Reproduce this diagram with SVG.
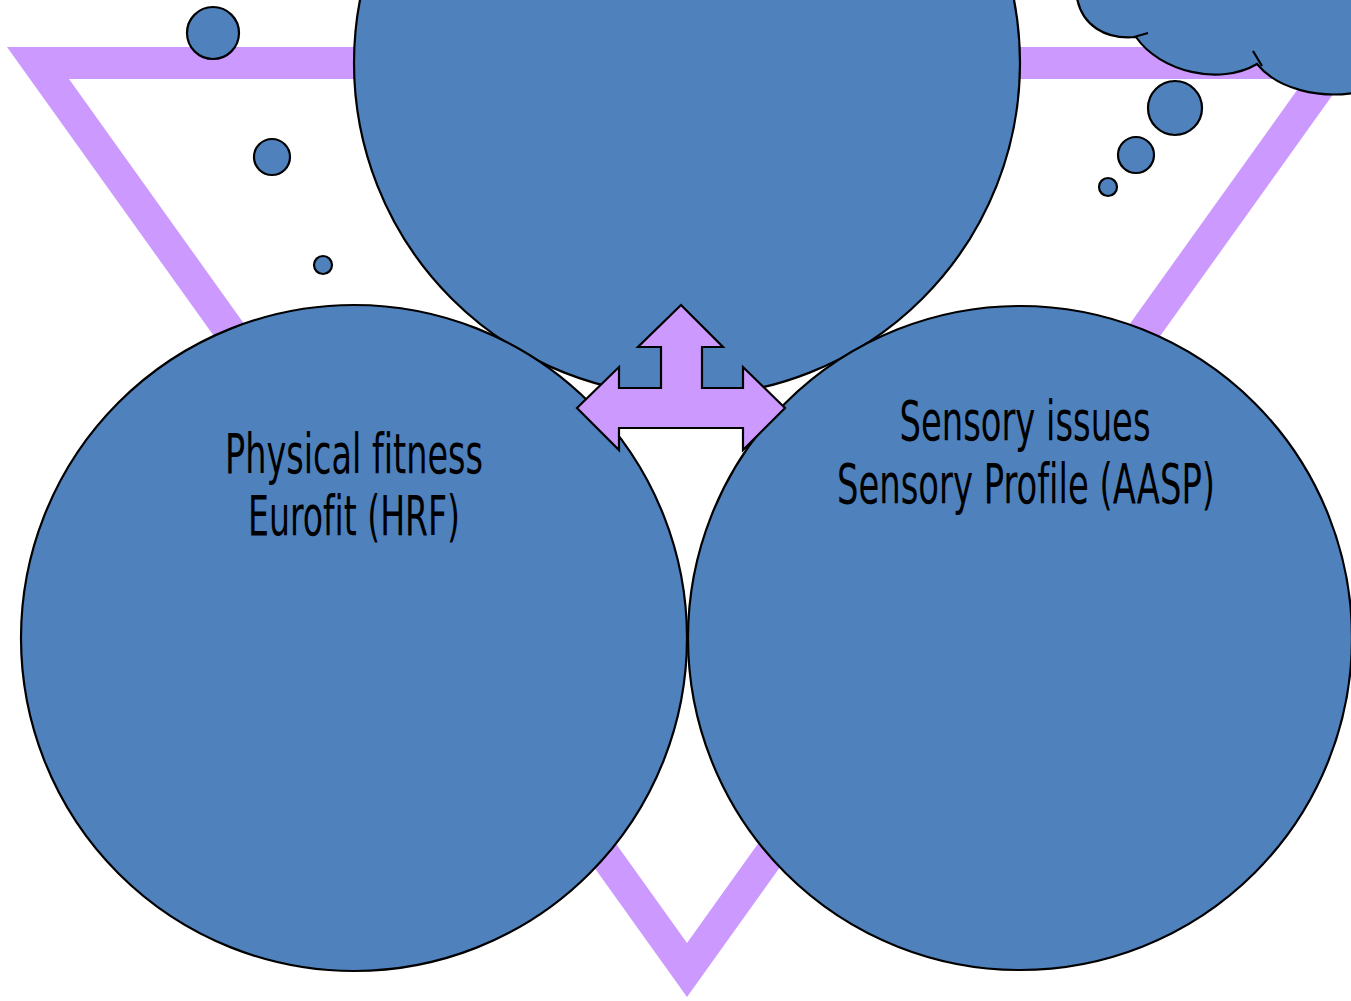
<svg xmlns="http://www.w3.org/2000/svg" width="1351" height="1001" viewBox="0 0 1351 1001">
<style>
.blob{fill:#4F81BD;stroke:#000;stroke-width:2.2}
.lbl{font-family:"Liberation Sans Narrow","DejaVu Sans Condensed","Liberation Sans",sans-serif;font-size:46px;fill:#000;text-anchor:middle;font-variant-ligatures:none}
.tri{fill:#CC99FF;fill-rule:evenodd}
.arrow{fill:#CC99FF;stroke:#000;stroke-width:2.2;stroke-linejoin:miter}
</style>
<rect width="1351" height="1001" fill="#fff"/>
<g id="triangle">
<path class="tri" d="M7,47 L1367,47 L687,997 Z M69,79 L1305,79 L687,943 Z"/>
</g>
<g id="node-top">
<circle class="blob" cx="687" cy="63" r="333"/>
</g>
<g id="node-left">
<circle class="blob" cx="354" cy="638" r="333"/>
<text class="lbl" transform="translate(354,473) scale(1,1.2)" x="0" y="0" textLength="258" lengthAdjust="spacingAndGlyphs">Physical fitness</text>
<text class="lbl" transform="translate(354,535) scale(1,1.2)" x="0" y="0" textLength="212" lengthAdjust="spacingAndGlyphs">Eurofit (HRF)</text>
</g>
<g id="node-right">
<circle class="blob" cx="1020" cy="638" r="332"/>
<text class="lbl" transform="translate(1025,440) scale(1,1.2)" x="0" y="0" textLength="251" lengthAdjust="spacingAndGlyphs">Sensory issues</text>
<text class="lbl" transform="translate(1026,503) scale(1,1.2)" x="0" y="0" textLength="378" lengthAdjust="spacingAndGlyphs">Sensory Profile (AASP)</text>
</g>
<g id="connectors">
<polygon class="arrow" points="681,305 723,347 702,347 702,388 743,388 743,367 785,408 743,450 743,428 619,428 619,450 577,408 619,367 619,388 661,388 661,347 638,347"/>
</g>
<g id="bubbles-left">
<circle class="blob" cx="213" cy="33" r="26"/>
<circle class="blob" cx="272" cy="157" r="18"/>
<circle class="blob" cx="323" cy="265" r="9"/>
</g>
<g id="cloud">
<circle class="blob" cx="1175" cy="108" r="27"/>
<circle class="blob" cx="1136" cy="155" r="18"/>
<circle class="blob" cx="1108" cy="187" r="9"/>
<path class="blob" d="M1077,-2 C1082,25 1105,40 1136,37 C1160,72 1220,86 1257,64 C1278,90 1320,98 1353,93 L1353,-2 Z"/>
<path fill="none" stroke="#000" stroke-width="2.2" d="M1134,37 L1148,33 M1253,51 L1262,66"/>
</g>
</svg>
